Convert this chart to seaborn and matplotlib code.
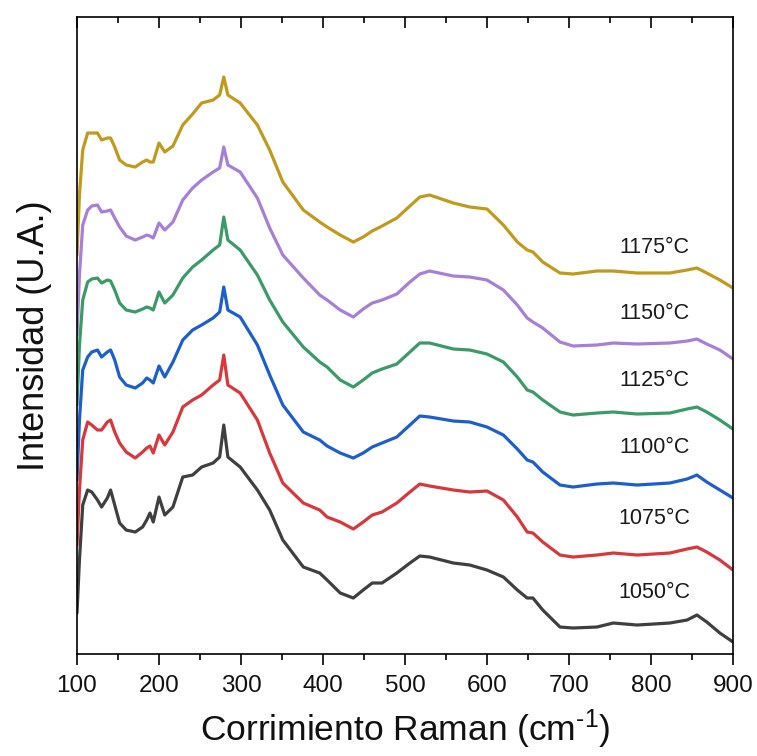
import numpy as np
import pandas as pd
import matplotlib
matplotlib.use("Agg")
import matplotlib.pyplot as plt
from matplotlib.ticker import MultipleLocator
import seaborn as sns

# Raman shift grid (cm^-1)
shift = [100, 103, 107, 113, 118, 125, 130, 137, 141, 146, 152, 160, 171, 180, 185, 189, 193,
         200, 207, 217, 229, 241, 252, 266, 274, 279, 284, 299, 320, 335, 351, 376, 396, 405,
         421, 437, 449, 460, 472, 490, 506, 518, 530, 559, 579, 600, 620, 637, 649, 656, 668,
         689, 705, 734, 754, 783, 823, 844, 856, 868, 884, 900]

# Offset intensities (a.u.)
i_1050 = [41, 94, 149, 164, 162, 154, 147, 156, 164, 149, 131, 124, 122, 127, 134, 141, 132,
          157, 139, 147, 177, 179, 187, 191, 197, 229, 197, 187, 164, 144, 114, 87, 81, 74,
          61, 56, 64, 71, 71, 81, 91, 98, 97, 91, 89, 84, 77, 64, 56, 56, 44,
          27, 26, 27, 31, 29, 31, 34, 39, 32, 21, 12]
i_1075 = [109, 164, 214, 232, 229, 224, 224, 232, 234, 222, 211, 202, 196, 202, 206, 208, 201,
          219, 209, 222, 247, 254, 259, 269, 274, 299, 269, 261, 234, 201, 171, 151, 144, 137,
          132, 125, 132, 139, 142, 151, 162, 170, 168, 164, 162, 163, 154, 137, 122, 121, 112,
          99, 97, 99, 101, 99, 101, 105, 107, 102, 94, 84]
i_1100 = [174, 234, 284, 297, 302, 304, 297, 302, 304, 294, 277, 269, 266, 271, 276, 274, 271,
          288, 277, 292, 314, 324, 329, 336, 342, 367, 344, 337, 309, 279, 249, 222, 214, 208,
          201, 196, 201, 207, 211, 217, 229, 238, 237, 233, 232, 227, 219, 205, 194, 192, 182,
          169, 167, 170, 171, 169, 171, 175, 179, 172, 164, 156]
i_1125 = [249, 309, 354, 372, 375, 376, 371, 374, 373, 364, 351, 344, 342, 345, 347, 346, 344,
          362, 351, 359, 376, 387, 394, 404, 409, 437, 414, 404, 379, 354, 332, 307, 292, 287,
          274, 267, 274, 281, 285, 290, 302, 311, 311, 305, 304, 300, 292, 277, 264, 262, 254,
          242, 239, 241, 242, 240, 241, 245, 247, 242, 234, 225]
i_1150 = [319, 379, 429, 444, 448, 449, 442, 443, 444, 436, 427, 418, 414, 417, 419, 418, 416,
          431, 424, 432, 454, 466, 474, 482, 486, 507, 489, 482, 456, 426, 399, 376, 359, 354,
          344, 337, 345, 351, 354, 360, 372, 380, 383, 378, 377, 374, 364, 349, 336, 332, 326,
          312, 308, 309, 311, 310, 311, 313, 315, 310, 304, 295]
i_1175 = [399, 459, 504, 521, 521, 521, 514, 516, 516, 507, 494, 489, 487, 492, 494, 492, 492,
          511, 502, 508, 529, 540, 551, 554, 559, 577, 559, 551, 529, 504, 472, 444, 432, 427,
          419, 412, 417, 423, 428, 436, 448, 457, 459, 451, 447, 445, 429, 412, 404, 402, 392,
          381, 380, 383, 383, 381, 381, 384, 386, 381, 374, 366]

temps = ["1050°C", "1075°C", "1100°C", "1125°C", "1150°C", "1175°C"]
series = [i_1050, i_1075, i_1100, i_1125, i_1150, i_1175]
colors = ["#3f3f3f", "#d8373c", "#1c5fcc", "#3a9a68", "#a67fd6", "#c09a1c"]

df = pd.concat([pd.DataFrame({"shift": shift, "intensity": s, "temp": t})
                for s, t in zip(series, temps)], ignore_index=True)

sns.set_style("white")
plt.rcParams["font.family"] = ["Liberation Sans", "DejaVu Sans"]
plt.rcParams["mathtext.fontset"] = "custom"
plt.rcParams["mathtext.rm"] = "Liberation Sans"
plt.rcParams["mathtext.it"] = "Liberation Sans:italic"

fig = plt.figure(figsize=(7.57, 7.56), dpi=100)
ax = fig.add_axes([0.1017, 0.1349, 0.8666, 0.8426])

sns.lineplot(data=df, x="shift", y="intensity", hue="temp", palette=dict(zip(temps, colors)),
             estimator=None, sort=False, legend=False, linewidth=2.3, ax=ax)

ax.set_xlim(100, 900)
ax.set_ylim(0, 637)
ax.set_yticks([])
ax.xaxis.set_major_locator(MultipleLocator(100))
ax.xaxis.set_minor_locator(MultipleLocator(50))
ax.tick_params(axis="x", which="both", direction="out", bottom=True, top=False,
               labelsize=17.5, pad=7, width=1.2, color="black", labelcolor="#111111")
ax.tick_params(axis="x", which="major", length=8)
ax.tick_params(axis="x", which="minor", length=4.5)

sec = ax.secondary_xaxis("top")
sec.xaxis.set_major_locator(MultipleLocator(100))
sec.xaxis.set_minor_locator(MultipleLocator(50))
sec.tick_params(which="both", direction="in", labeltop=False, width=1.2, color="black")
sec.tick_params(which="major", length=8)
sec.tick_params(which="minor", length=4.5)
sec.spines["top"].set_visible(False)

for sp in ax.spines.values():
    sp.set_visible(True)
    sp.set_color("black")
    sp.set_linewidth(1.2)

ax.set_xlabel(r"Corrimiento Raman (cm$^{\text{-}1}$)", fontsize=25.5, labelpad=8, color="#111111")
ax.set_ylabel("Intensidad (U.A.)", fontsize=26, labelpad=18, color="#111111")

label_y = [62, 136, 207, 274, 341, 407]
for t, yv in zip(temps, label_y):
    ax.text(804, yv, t, fontsize=15.5, ha="center", va="center", color="#1a1a1a")

fig.savefig("out.png", dpi=100)
